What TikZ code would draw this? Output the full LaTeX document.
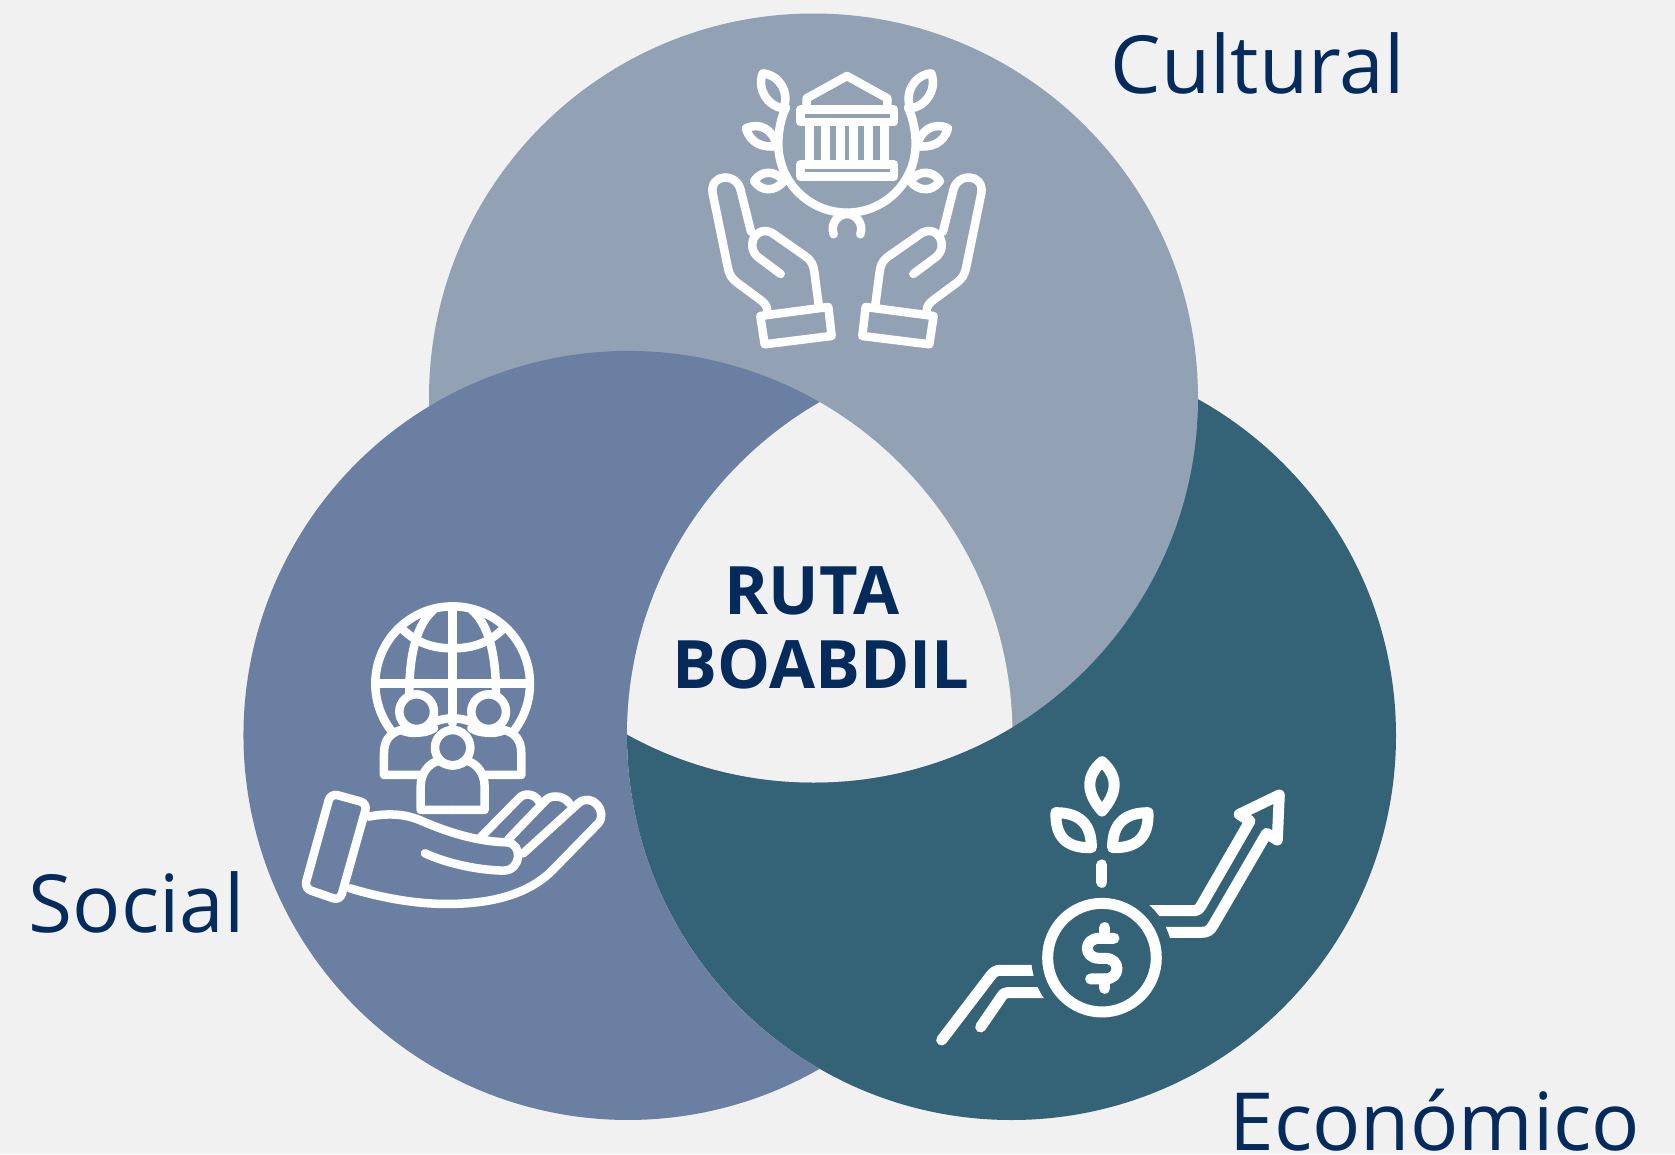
\documentclass[tikz,border=0pt]{standalone}
\usepackage{fontspec}
\setmainfont{Open Sans}
\definecolor{bgcolor}{HTML}{F1F1F1}
\definecolor{culturalcolor}{HTML}{92A1B4}
\definecolor{socialcolor}{HTML}{6A7FA2}
\definecolor{economiccolor}{HTML}{346276}
\definecolor{textcolor}{HTML}{042B5C}
\tikzset{
	iconline/.style={draw=white, line width=0.085cm, line cap=round, line join=round},
	iconthick/.style={draw=white, line width=0.11cm, line cap=round, line join=round},
	ringlabel/.style={anchor=base west, inner sep=0pt, text=textcolor, font=\fontsize{22.8pt}{26pt}\selectfont},
	routelabel/.style={anchor=base, inner sep=0pt, text=textcolor, font=\fontsize{19pt}{22pt}\selectfont\bfseries\addfontfeature{Kerning=Off}},
}
\newcommand{\laurelhalf}{
	\draw[iconline] (350,170) -- (350,145) -- (471,78);
	\draw[iconline] (358,227) -- (358,343);
	\draw[iconline] (406,227) -- (406,343);
	\draw[iconline] (451,227) -- (451,343);
	% laurel
	\draw[iconline] (288,172) .. controls (270,210) and (265,250) .. (265,282) arc[start angle=180, end angle=90, radius=206];
	\draw[iconline] (218,70) .. controls (270,75) and (300,130) .. (280,175) .. controls (235,170) and (200,120) .. cycle;
	\draw[iconline] (168,235) .. controls (210,215) and (250,240) .. (262,288) .. controls (220,295) and (180,280) .. cycle;
	\draw[iconline] (192,393) .. controls (215,360) and (255,360) .. (282,393) .. controls (255,426) and (215,426) .. cycle;
	\draw[iconline] (431,553) .. controls (420,520) and (445,492) .. (471,492);
	% hand and cuff
	\draw[iconline] (183,545) -- (153,425) .. controls (143,365) and (58,370) .. (68,430) -- (113,650) .. controls (118,675) and (125,685) .. (140,697) -- (205,745) .. controls (222,757) and (230,765) .. (232,780);
	\draw[iconline] (272,672) -- (205,622) .. controls (165,590) and (195,525) .. (245,548) -- (345,618) .. controls (365,632) and (370,645) .. (373,665) -- (387,772);
	\draw[iconline] (211,798) -- (415,771) -- (425,858) -- (224,883) -- cycle;
}
\newcommand{\globehalf}{
	\draw[iconline] (335,115) .. controls (380,160) and (430,175) .. (488,175);
	\draw[iconline] (430,60) .. controls (385,100) and (358,180) .. (358,310);
	\draw[iconline] (430,397) .. controls (450,388) and (470,385) .. (488,385);
	% person at the side
	\draw[iconline] (380,365) circle[radius=52];
	\draw[iconline] (390,555) -- (282,555) -- (282,490) .. controls (282,450) and (300,430) .. (332,420) .. controls (350,428) and (370,430) .. (380,428);
	\draw[iconline] (380,428) .. controls (400,428) and (415,425) .. (432,415);
	% person in the middle
	\draw[iconline] (488,660) -- (392,660) -- (392,590) .. controls (392,550) and (415,520) .. (447,512) .. controls (465,525) and (480,526) .. (488,526);
}
\newcommand{\leafhalf}{
	\draw[iconthick] (408,203) .. controls (490,203) and (515,250) .. (514,308) .. controls (440,310) and (405,275) .. cycle;
}
\begin{document}
\begin{tikzpicture}[x=0.01cm, y=-0.01cm]
	\useasboundingbox (0,0) rectangle (1675,1154);
	\fill[bgcolor] (0,0) rectangle (1675,1154);
	% the three rings, each one over the next
	\fill[economiccolor] (1011.5,735.5) circle[radius=384.5];
	\fill[culturalcolor] (813.5,398)    circle[radius=384.5];
	\fill[socialcolor] (819.75,402.2) arc[start angle=-60.09, end angle=-299.91, radius=384.5] arc[start angle=119.91, end angle=240.09, radius=384.5] -- cycle;
	\begin{scope}
		\clip (813.5,398) circle[radius=384.5];
		\clip (628,735.5) circle[radius=384.5];
		\clip (1011.5,735.5) circle[radius=384.5];
		\fill[bgcolor] (0,0) rectangle (1675,1154);
	\end{scope}
	% labels
	\node[ringlabel] (cultural) at (1110,93)  {Cultural};
	\node[ringlabel] (social)   at (28,932)   {Social};
	\node[ringlabel] (economic) at (1229,1150) {Económico};
	\node[routelabel] (ruta)    at (812,614) {RUTA};
	\node[routelabel] (boabdil) at (821,688)   {BOABDIL};
	% cultural icon
	\begin{scope}[shift={(690,50)}, scale=0.3333]
		\laurelhalf
		\begin{scope}[shift={(942,0)}, xscale=-1]
			\laurelhalf
		\end{scope}
		\draw[iconline] (331,179) rectangle (612,216);
		\draw[iconline] (331,343) rectangle (612,380);
	\end{scope}
	% social icon
	\begin{scope}[shift={(290,590)}, scale=0.3333]
		\draw[iconline] (488,281) ++(141:232) arc[start angle=141, end angle=399, radius=232];
		\draw[iconline] (258,281) -- (720,281);
		\draw[iconline] (488,49) -- (488,400);
		\globehalf
		\begin{scope}[shift={(976,0)}, xscale=-1]
			\globehalf
		\end{scope}
		\draw[iconline] (488,473) circle[radius=53];
		\draw[iconline, rounded corners=2pt] (122,610) -- (232,640) -- (150,932) -- (43,895) -- cycle;
		\draw[iconline] (235,680) .. controls (300,668) and (350,672) .. (400,695) .. controls (470,725) and (560,755) .. (650,757) .. controls (700,760) and (695,842) .. (640,842) .. controls (560,840) and (470,820) .. (405,790);
		\draw[iconline] (180,895) .. controls (280,925) and (380,942) .. (470,942) .. controls (600,942) and (720,915) .. (796,832) -- (925,700) .. controls (955,665) and (905,605) .. (865,640) -- (700,790);
		\draw[iconline] (572,742) -- (690,622) .. controls (710,605) and (740,615) .. (750,640);
		\draw[iconline] (655,748) -- (770,628) .. controls (790,612) and (825,620) .. (838,640);
	\end{scope}
	% economic icon
	\begin{scope}[shift={(920,745)}, scale=0.3333]
		\draw[iconthick] (65,885) -- (210,695) .. controls (220,680) and (230,676) .. (240,676) -- (400,676);
		\draw[iconthick] (182,846) -- (243,757) .. controls (248,748) and (252,743) .. (262,743) -- (400,743);
		\draw[iconthick] (640,497) -- (825,497) .. controls (835,497) and (838,490) .. (843,483) -- (990,228) -- (958,208) -- (1078,150) -- (1072,285) -- (1040,265) -- (880,540) .. controls (870,558) and (860,562) .. (845,562) -- (680,562);
		\fill[economiccolor] (546,638) circle[radius=212];
		\draw[iconthick] (546,638) circle[radius=163];
		\draw[iconthick] (582,580) -- (538,580) .. controls (490,580) and (490,640) .. (538,640) -- (555,640) .. controls (603,640) and (603,702) .. (555,702) -- (512,702);
		\draw[iconthick] (554,548) -- (554,580);
		\draw[iconthick] (554,702) -- (554,730);
		\draw[iconthick] (546,360) -- (546,412);
		\draw[iconthick] (546,50) .. controls (490,100) and (505,150) .. (546,198) .. controls (587,150) and (602,100) .. cycle;
		\leafhalf
		\begin{scope}[shift={(1092,0)}, xscale=-1]
			\leafhalf
		\end{scope}
	\end{scope}
\end{tikzpicture}
\end{document}
